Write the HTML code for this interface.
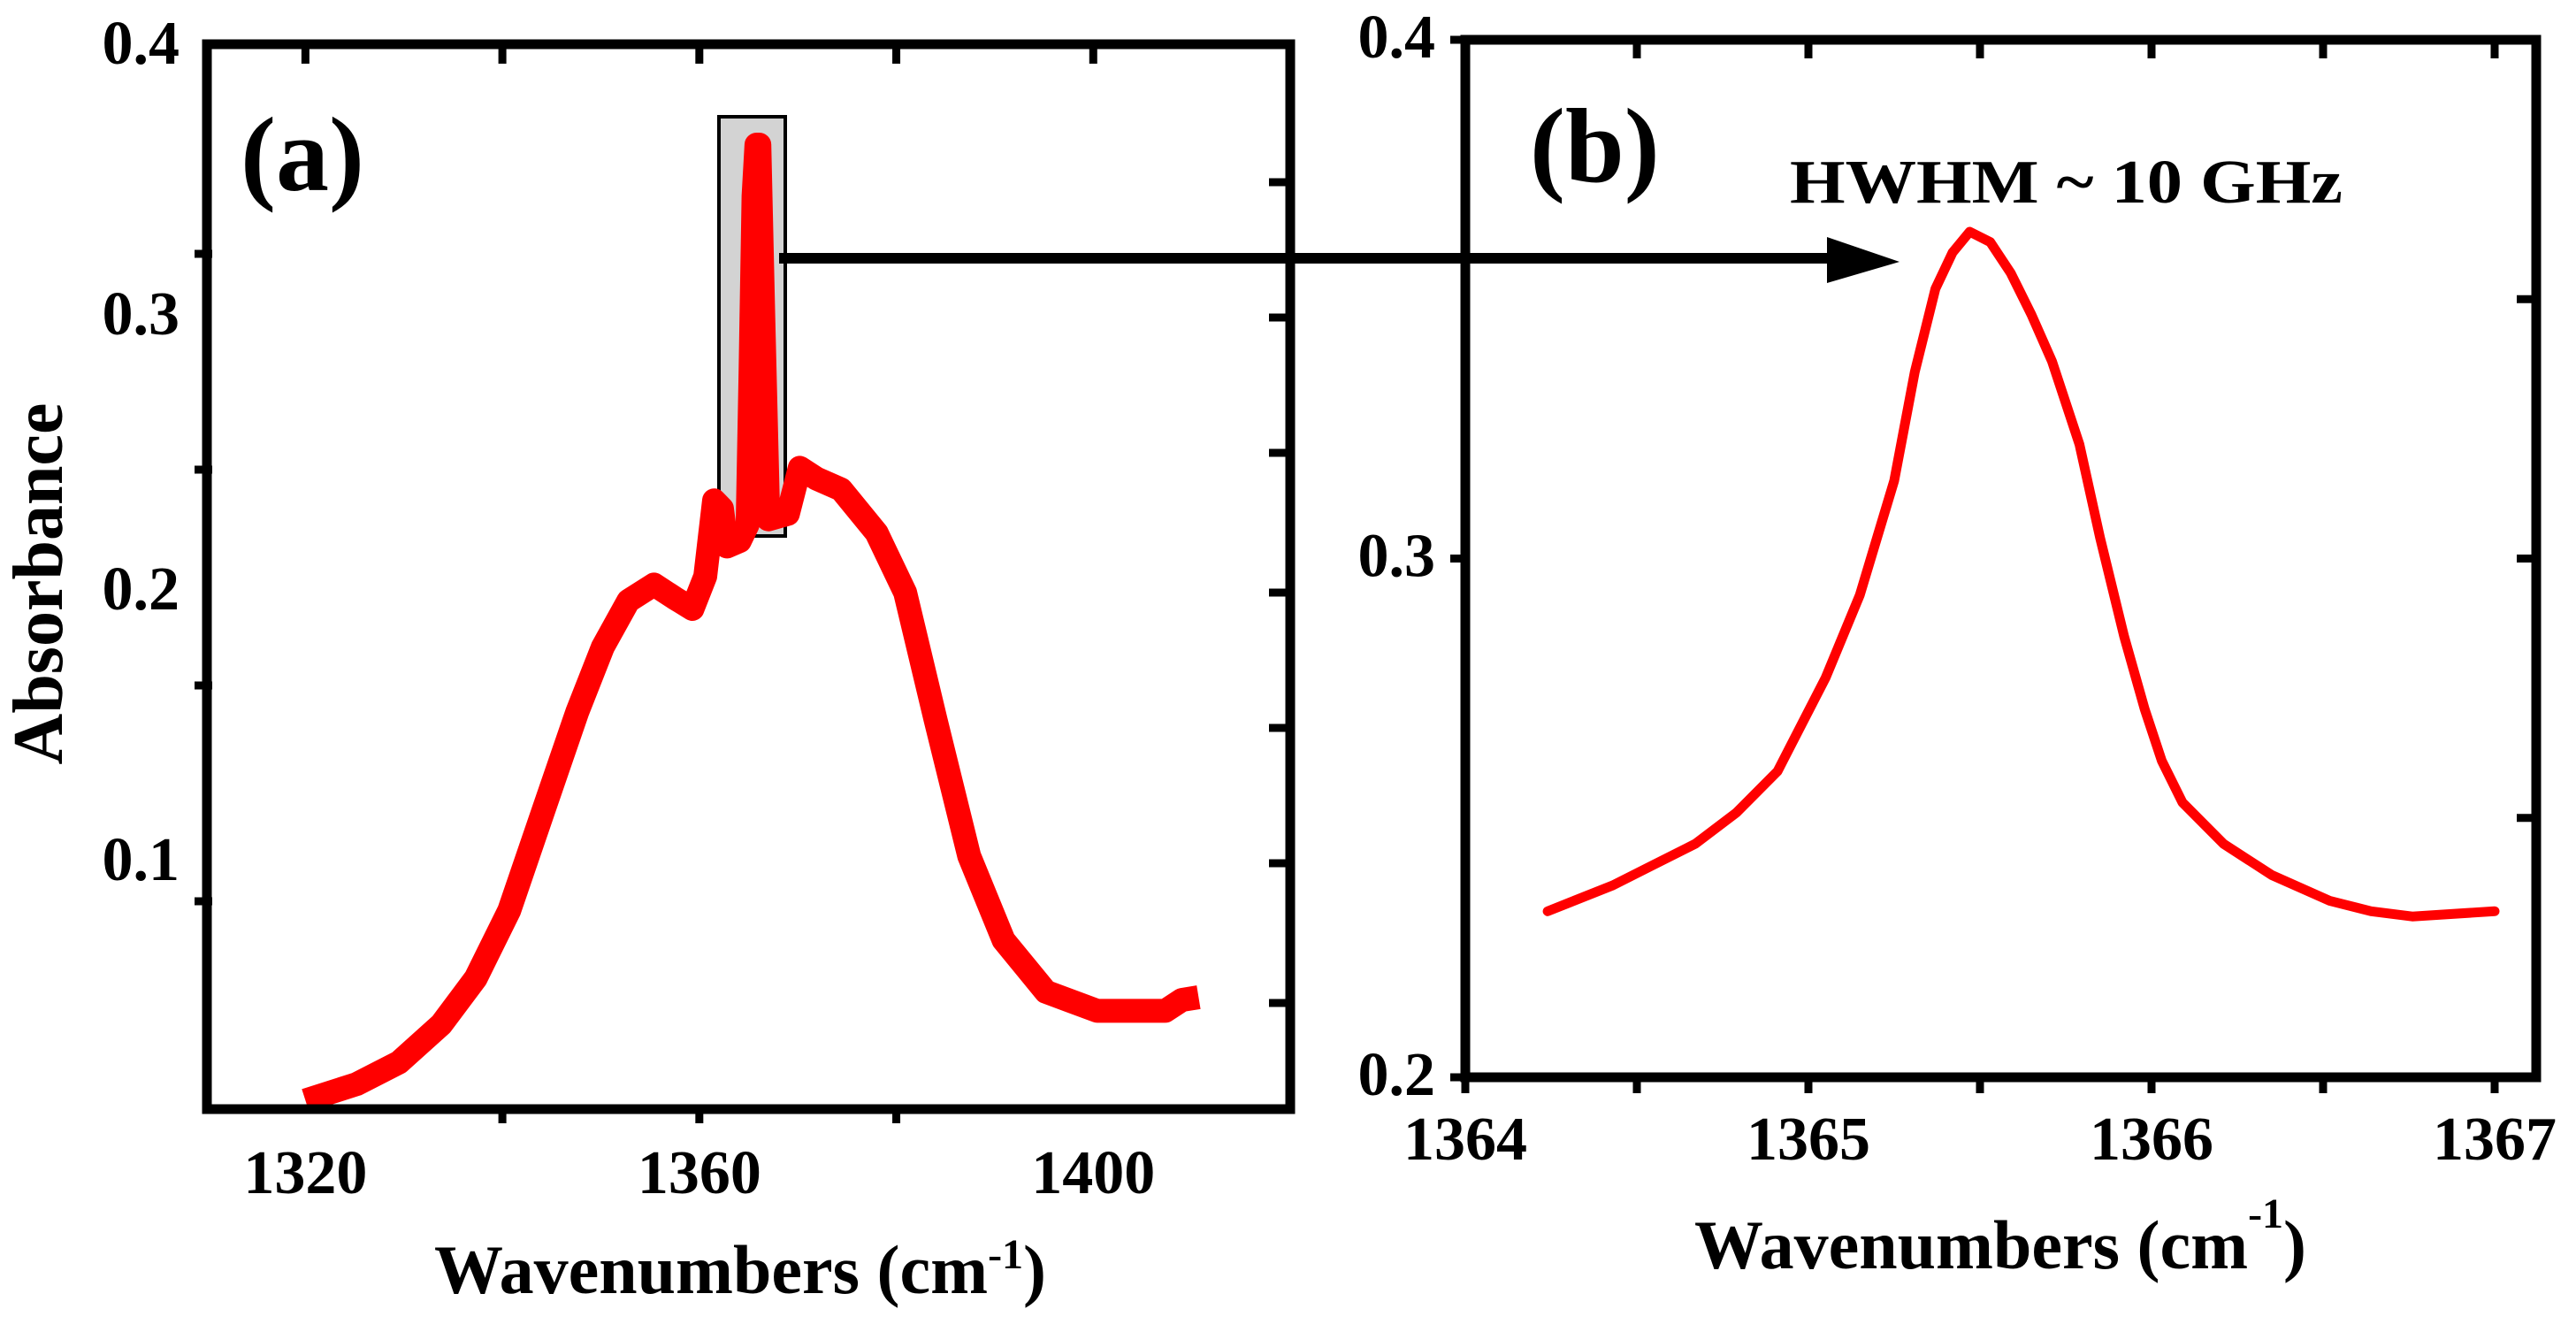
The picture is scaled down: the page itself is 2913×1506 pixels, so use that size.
<!DOCTYPE html>
<html><head><meta charset="utf-8"><style>
html,body{margin:0;padding:0;background:#fff;}
svg{display:block;}
text{font-family:"Liberation Serif",serif;font-weight:bold;fill:#000;}
</style></head><body>
<svg id="chart" width="2913" height="1506" viewBox="0 0 2913 1506" xmlns="http://www.w3.org/2000/svg">
<g id="panelA"></g>
<g id="panelB"></g>
</svg>
<script>
// Panel (a) data
const aX = [1320.0,1325.2,1329.5,1333.8,1337.3,1340.7,1344.1,1347.6,1350.2,1352.8,1355.4,1357.5,1359.3,1360.6,1361.5,1362.3,1362.8,1364.1,1364.9,1365.2,1365.5,1365.8,1366.1,1366.5,1367.0,1369.0,1370.2,1371.9,1374.4,1378.0,1380.9,1384.0,1387.4,1390.9,1395.2,1400.4,1407.3,1409.0,1410.7];
const aY = [0.012,0.018,0.026,0.040,0.057,0.082,0.118,0.155,0.179,0.196,0.202,0.197,0.193,0.205,0.233,0.230,0.216,0.218,0.224,0.280,0.345,0.364,0.364,0.300,0.226,0.228,0.245,0.241,0.237,0.221,0.199,0.152,0.102,0.071,0.052,0.045,0.045,0.049,0.050];
const aXTicks = [1320,1360,1400];
const aYTicks = ["0.1","0.2","0.3","0.4"];
// Panel (b) data
const bX = [1364.24,1364.43,1364.55,1364.67,1364.79,1364.91,1364.98,1365.05,1365.15,1365.20,1365.25,1365.31,1365.37,1365.42,1365.47,1365.53,1365.59,1365.65,1365.71,1365.79,1365.85,1365.92,1365.98,1366.03,1366.09,1366.21,1366.35,1366.52,1366.64,1366.76,1367.00];
const bY = [0.232,0.237,0.241,0.245,0.251,0.259,0.268,0.277,0.293,0.304,0.315,0.336,0.352,0.359,0.363,0.361,0.355,0.347,0.338,0.322,0.304,0.285,0.271,0.261,0.253,0.245,0.239,0.234,0.232,0.231,0.232];
const bXTicks = [1364,1365,1366,1367];
const bYTicks = ["0.2","0.3","0.4"];

const NS = "http://www.w3.org/2000/svg";
function mk(parent, tag, attrs, txt){
  const e = document.createElementNS(NS, tag);
  for (const k in attrs) e.setAttribute(k, attrs[k]);
  if (txt !== undefined) e.textContent = txt;
  parent.appendChild(e); return e;
}
const axA = {x0:1310,x1:1420,l:234,r:1459,yPerPx:3070,top:53};
function xa(v){ return axA.l + (v-axA.x0)*(axA.r-axA.l)/(axA.x1-axA.x0); }
function ya(v){ return axA.top + (0.4-v)*axA.yPerPx; }
function xb(v){ return 1657 + (v-1364)*388; }
function yb(v){ return 45 + (0.4-v)*(1218-45)/0.2; }

const A = document.getElementById('panelA');
const B = document.getElementById('panelB');

let e;
e = mk(A,'rect',{x:813,y:132,width:75,height:474,fill:'#d3d3d3',stroke:'#000','stroke-width':4});


e = mk(A,'polyline',{points:aX.map((v,i)=>xa(v).toFixed(1)+','+ya(aY[i]).toFixed(1)).join(' '),fill:'none',stroke:'#ff0000','stroke-width':27,'stroke-linejoin':'round'});


e = mk(A,'rect',{x:234,y:50,width:1225,height:1204,fill:'none',stroke:'#000','stroke-width':11});


[287,531,775,1019].forEach(y=>{ const t=mk(A,'line',{x1:220,x2:240,y1:y,y2:y,stroke:'#000','stroke-width':9});
 });
[206,359,512,670,823,976,1134].forEach(y=>{ const t=mk(A,'line',{x1:1435,x2:1459,y1:y,y2:y,stroke:'#000','stroke-width':9});
 });
[1320,1340,1360,1380,1400].forEach(v=>{ const t=mk(A,'line',{x1:xa(v),x2:xa(v),y1:50,y2:72,stroke:'#000','stroke-width':9});
 });
[1340,1360,1380].forEach(v=>{ const t=mk(A,'line',{x1:xa(v),x2:xa(v),y1:1254,y2:1270,stroke:'#000','stroke-width':9});
 });
aXTicks.forEach(v=>{ const t=mk(A,'text',{x:xa(v),y:1349,'font-size':70,'text-anchor':'middle'},String(v));
 });
const aYBase=[995,689,378,72];
aYTicks.forEach((s,i)=>{ const t=mk(A,'text',{x:203,y:aYBase[i],'font-size':70,'text-anchor':'end'},s);
 });
e = mk(A,'text',{x:837,y:1462,'font-size':78,'text-anchor':'middle'},'');


mk(e,'tspan',{},'Wavenumbers (cm');
mk(e,'tspan',{dy:-28,'font-size':48},'-1');
mk(e,'tspan',{dy:28},')');
e = mk(A,'text',{x:0,y:0,'font-size':80,'text-anchor':'middle',transform:'translate(70,660) rotate(-90)'},'Absorbance');


e = mk(A,'text',{x:272,y:215,'font-size':120},'(a)');


e = mk(A,'line',{x1:881,x2:2075,y1:292,y2:292,stroke:'#000','stroke-width':12});


e = mk(A,'polygon',{points:'2066,268 2148,296 2066,320',fill:'#000'});



e = mk(B,'polyline',{points:bX.map((v,i)=>xb(v).toFixed(1)+','+yb(bY[i]).toFixed(1)).join(' '),fill:'none',stroke:'#ff0000','stroke-width':11,'stroke-linejoin':'round','stroke-linecap':'round'});


e = mk(B,'rect',{x:1657,y:45,width:1211,height:1173,fill:'none',stroke:'#000','stroke-width':11});


[0.2,0.3,0.4].forEach(v=>{ const t=mk(B,'line',{x1:1640,x2:1660,y1:yb(v),y2:yb(v),stroke:'#000','stroke-width':9});
 });
[0.35,0.3,0.25].forEach(v=>{ const t=mk(B,'line',{x1:2846,x2:2868,y1:yb(v),y2:yb(v),stroke:'#000','stroke-width':9});
 });
[1364.5,1365,1365.5,1366,1366.5,1367].forEach(v=>{ const t=mk(B,'line',{x1:xb(v),x2:xb(v),y1:45,y2:66,stroke:'#000','stroke-width':9});
 });
[1364,1364.5,1365,1365.5,1366,1366.5,1367].forEach(v=>{ const t=mk(B,'line',{x1:xb(v),x2:xb(v),y1:1218,y2:1236,stroke:'#000','stroke-width':9});
 });
bXTicks.forEach(v=>{ const t=mk(B,'text',{x:xb(v),y:1311,'font-size':70,'text-anchor':'middle'},String(v));
 });
bYTicks.forEach(s=>{ const v=parseFloat(s); const t=mk(B,'text',{x:1623,y:yb(v)+20,'font-size':70,'text-anchor':'end'},s);
 });
e = mk(B,'text',{x:2262,y:1434,'font-size':78,'text-anchor':'middle'},'');


mk(e,'tspan',{},'Wavenumbers (cm');
mk(e,'tspan',{dy:-46,'font-size':48},'-1');
mk(e,'tspan',{dy:46},')');
e = mk(B,'text',{x:1730,y:205,'font-size':120},'(b)');


e = mk(B,'text',{x:2024,y:229,'font-size':70,textLength:625,lengthAdjust:'spacingAndGlyphs'},'HWHM ~ 10 GHz');


</script>
</body></html>
